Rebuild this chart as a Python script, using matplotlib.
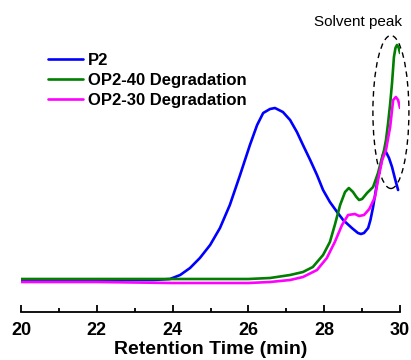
import matplotlib.pyplot as plt
from matplotlib.patches import Ellipse
from matplotlib.ticker import MultipleLocator

plt.rcParams['font.family'] = ['Liberation Sans', 'DejaVu Sans']

# P2 (arbitrary intensity units)
p2_t = [20.0, 21.0, 22.0, 23.0, 23.5, 23.93, 24.2, 24.46, 24.72, 24.99, 25.25, 25.51,
        25.78, 26.04, 26.23, 26.39, 26.57, 26.70, 26.91, 27.1, 27.28, 27.44, 27.63,
        27.81, 27.97, 28.15, 28.34, 28.5, 28.73, 28.89, 28.97, 29.05, 29.16, 29.22,
        29.29, 29.42, 29.55, 29.63, 29.71, 29.79, 29.87, 29.95]
p2_v = [0.32, 0.32, 0.32, 0.32, 0.32, 0.33, 0.37, 0.44, 0.54, 0.67, 0.84, 1.07,
        1.37, 1.67, 1.87, 1.99, 2.03, 2.04, 2.00, 1.92, 1.80, 1.67, 1.52,
        1.37, 1.22, 1.10, 1.00, 0.92, 0.84, 0.79, 0.78, 0.79, 0.84, 0.92,
        1.05, 1.35, 1.57, 1.60, 1.54, 1.45, 1.33, 1.22]

# OP2-40 Degradation
op40_t = [20.0, 22.0, 24.0, 25.0, 26.0, 26.57, 27.1, 27.44, 27.7, 27.97, 28.15, 28.28,
          28.42, 28.55, 28.65, 28.76, 28.85, 28.92, 29.0, 29.13, 29.29, 29.42, 29.53,
          29.58, 29.63, 29.68, 29.74, 29.79, 29.84, 29.88, 29.92, 29.96, 30.0]
op40_v = [0.33, 0.33, 0.33, 0.33, 0.33, 0.34, 0.37, 0.40, 0.45, 0.57, 0.70, 0.87,
          1.07, 1.20, 1.24, 1.20, 1.15, 1.12, 1.13, 1.19, 1.25, 1.39, 1.55,
          1.62, 1.72, 1.87, 2.08, 2.29, 2.55, 2.64, 2.67, 2.65, 2.59]

# OP2-30 Degradation
op30_t = [20.0, 22.0, 24.0, 26.0, 26.57, 27.1, 27.44, 27.81, 28.07, 28.28, 28.47,
          28.63, 28.81, 28.92, 29.05, 29.19, 29.34, 29.42, 29.53, 29.63, 29.74, 29.79,
          29.82, 29.89, 29.95, 30.0]
op30_v = [0.30, 0.30, 0.29, 0.29, 0.30, 0.32, 0.35, 0.42, 0.54, 0.70, 0.87,
          0.97, 0.98, 0.96, 0.97, 1.03, 1.15, 1.32, 1.52, 1.62, 1.85, 2.02,
          2.12, 2.15, 2.12, 2.04]

fig = plt.figure(figsize=(4.11, 3.6), dpi=100)
ax = fig.add_axes([21 / 411, 48 / 360, 379 / 411, 312 / 360])

kw = dict(lw=1.9, solid_joinstyle='round', solid_capstyle='round')
ax.plot(p2_t, p2_v, color='#0000ff', label='P2', **kw)
ax.plot(op40_t, op40_v, color='#007f00', label='OP2-40 Degradation', **kw)
ax.plot(op30_t, op30_v, color='#ff00ff', label='OP2-30 Degradation', **kw)

# solvent peak marker
ell = Ellipse((29.76, 2.0), 0.95, 1.53, fill=False, ls=(0, (4, 3)), lw=1.0,
              color='black', clip_on=False)
ax.add_patch(ell)
ax.text(28.89, 2.90, 'Solvent peak', ha='center', va='center', fontsize=11)

ax.set_xlim(20, 30)
ax.set_ylim(0, 3.12)
for s in ['left', 'right', 'top']:
    ax.spines[s].set_visible(False)
ax.spines['bottom'].set_linewidth(1.3)
ax.set_yticks([])
ax.xaxis.set_major_locator(MultipleLocator(2))
ax.xaxis.set_minor_locator(MultipleLocator(1))
ax.tick_params(axis='x', which='major', direction='in', length=5, width=1.3, labelsize=13, pad=7)
ax.tick_params(axis='x', which='minor', direction='in', length=3, width=1.3)
for lab in ax.get_xticklabels():
    lab.set_fontweight('bold')
ax.set_xlabel('Retention Time (min)', fontsize=14, fontweight='bold', labelpad=2)

ax.legend(loc='upper left', bbox_to_anchor=(0.071, 0.83), frameon=False,
          prop={'weight': 'bold', 'size': 12}, handlelength=2.1, handletextpad=0.3,
          labelspacing=0.3, borderaxespad=0, borderpad=0)

fig.savefig('out.png', dpi=100)
